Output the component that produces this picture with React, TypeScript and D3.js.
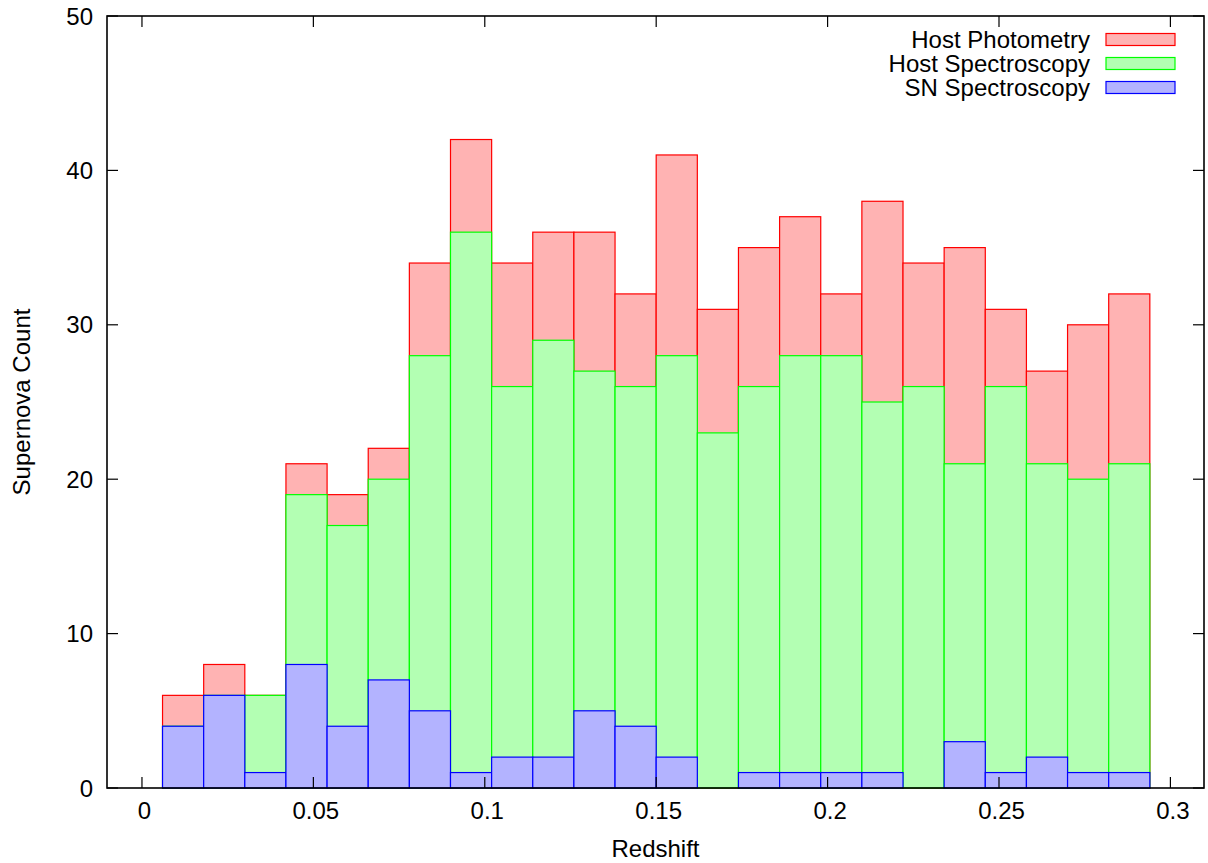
import * as d3 from "d3";

// redshift bins (left edges), width 0.012
const binStarts = [
  0.006, 0.018, 0.03, 0.042, 0.054, 0.066, 0.078, 0.09, 0.102, 0.114, 0.126, 0.138,
  0.15, 0.162, 0.174, 0.186, 0.198, 0.21, 0.222, 0.234, 0.246, 0.258, 0.27, 0.282,
];
const binWidth = 0.012;

const hostPhotometry = [
  6, 8, 6, 21, 19, 22, 34, 42, 34, 36, 36, 32, 41, 31, 35, 37, 32, 38, 34, 35, 31, 27, 30, 32,
];
const hostSpectroscopy = [
  4, 6, 6, 19, 17, 20, 28, 36, 26, 29, 27, 26, 28, 23, 26, 28, 28, 25, 26, 21, 26, 21, 20, 21,
];
const snSpectroscopy = [
  4, 6, 1, 8, 4, 7, 5, 1, 2, 2, 5, 4, 2, 0, 1, 1, 1, 1, 0, 3, 1, 2, 1, 1,
];

const xTicks = [0, 0.05, 0.1, 0.15, 0.2, 0.25, 0.3];
const yTicks = [0, 10, 20, 30, 40, 50];

const series = [
  { name: "Host Photometry", values: hostPhotometry, fill: "#ffb3b3", stroke: "#ff0000" },
  { name: "Host Spectroscopy", values: hostSpectroscopy, fill: "#b3ffb3", stroke: "#00ff00" },
  { name: "SN Spectroscopy", values: snSpectroscopy, fill: "#b3b3ff", stroke: "#0000ff" },
];

const W = 1208;
const H = 863;
const plot = { left: 107, top: 16, right: 1204, bottom: 788 };
const font = "'Liberation Sans', Arial, Helvetica, sans-serif";
const fs = 24;
const tickLen = 11;

export default function App() {
  const x = d3.scaleLinear().domain([-0.0102, 0.3098]).range([plot.left, plot.right]);
  const y = d3.scaleLinear().domain([0, 50]).range([plot.bottom, plot.top]);

  return (
    <svg
      width={W}
      height={H}
      style={{ position: "absolute", left: 0, top: 0, background: "#fff" }}
      fontFamily={font}
      fontSize={fs}
    >
      {series.map((s) => (
        <g key={s.name}>
          {s.values.map((v, i) =>
            v > 0 ? (
              <rect
                key={i}
                x={x(binStarts[i])}
                y={y(v)}
                width={x(binStarts[i] + binWidth) - x(binStarts[i])}
                height={y(0) - y(v)}
                fill={s.fill}
                stroke={s.stroke}
                strokeWidth={1.2}
              />
            ) : null
          )}
        </g>
      ))}

      {/* ticks, inward and mirrored */}
      {xTicks.map((t) => (
        <g key={"x" + t}>
          <line x1={x(t)} x2={x(t)} y1={plot.bottom} y2={plot.bottom - tickLen} stroke="#000" strokeWidth={1.2} />
          <line x1={x(t)} x2={x(t)} y1={plot.top} y2={plot.top + tickLen} stroke="#000" strokeWidth={1.2} />
          <text x={x(t) + 2.5} y={819} textAnchor="middle" fill="#000">
            {String(t)}
          </text>
        </g>
      ))}
      {yTicks.map((t) => (
        <g key={"y" + t}>
          <line x1={plot.left} x2={plot.left + tickLen} y1={y(t)} y2={y(t)} stroke="#000" strokeWidth={1.2} />
          <line x1={plot.right} x2={plot.right - tickLen} y1={y(t)} y2={y(t)} stroke="#000" strokeWidth={1.2} />
          <text x={93} y={y(t)} dy="0.36em" textAnchor="end" fill="#000">
            {t}
          </text>
        </g>
      ))}

      <rect
        x={plot.left}
        y={plot.top}
        width={plot.right - plot.left}
        height={plot.bottom - plot.top}
        fill="none"
        stroke="#000"
        strokeWidth={1.6}
      />

      {/* legend */}
      {series.map((s, i) => {
        const cy = 39.5 + i * 24;
        return (
          <g key={"leg" + s.name}>
            <text x={1090} y={cy} dy="0.36em" textAnchor="end" fill="#000">
              {s.name}
            </text>
            <rect x={1106} y={cy - 6} width={69} height={12} fill={s.fill} stroke={s.stroke} strokeWidth={1.2} />
          </g>
        );
      })}

      <text x={(plot.left + plot.right) / 2} y={857} textAnchor="middle" fill="#000">
        Redshift
      </text>
      <text
        transform={`translate(30, ${(plot.top + plot.bottom) / 2}) rotate(-90)`}
        textAnchor="middle"
        fill="#000"
      >
        Supernova Count
      </text>
    </svg>
  );
}
